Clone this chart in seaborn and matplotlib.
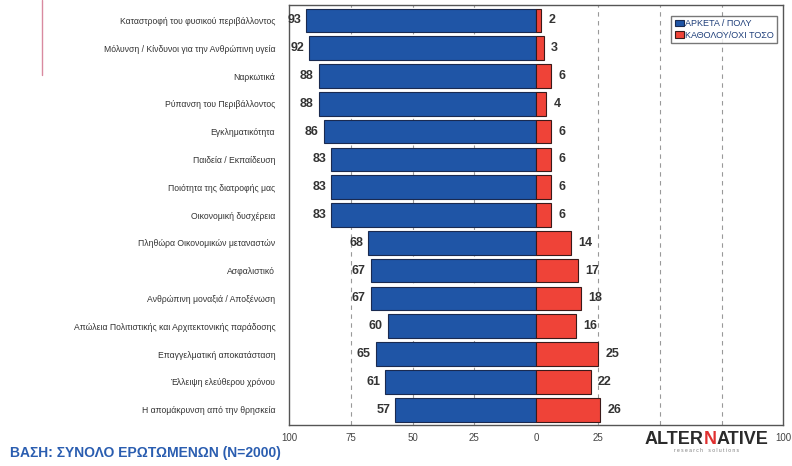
import numpy as np
import pandas as pd
import matplotlib
matplotlib.use("Agg")
import matplotlib.pyplot as plt
from matplotlib.offsetbox import TextArea, HPacker, VPacker, AnchoredOffsetbox
import seaborn as sns

# data
issues = [
    "Καταστροφή του φυσικού περιβάλλοντος",
    "Μόλυνση / Κίνδυνοι για την Ανθρώπινη υγεία",
    "Ναρκωτικά",
    "Ρύπανση του Περιβάλλοντος",
    "Εγκληματικότητα",
    "Παιδεία / Εκπαίδευση",
    "Ποιότητα της διατροφής μας",
    "Οικονομική δυσχέρεια",
    "Πληθώρα Οικονομικών μεταναστών",
    "Ασφαλιστικό",
    "Ανθρώπινη μοναξιά / Αποξένωση",
    "Απώλεια Πολιτιστικής και Αρχιτεκτονικής παράδοσης",
    "Επαγγελματική αποκατάσταση",
    "Έλλειψη ελεύθερου χρόνου",
    "Η απομάκρυνση από την θρησκεία",
]
much = [93, 92, 88, 88, 86, 83, 83, 83, 68, 67, 67, 60, 65, 61, 57]
little = [2, 3, 6, 4, 6, 6, 6, 6, 14, 17, 18, 16, 25, 22, 26]
ticks = [-100, -75, -50, -25, 0, 25, 100]

BLUE = "#1f55a6"
RED = "#ef4338"

sns.set_style("white")
plt.rcParams["font.family"] = ["Liberation Sans", "DejaVu Sans"]

df = pd.DataFrame({"issue": issues, "much": much, "little": little})
df["much_neg"] = -df["much"]

fig = plt.figure(figsize=(7.92, 4.66), dpi=100)
ax = fig.add_axes([0.365, 0.088, 0.624, 0.901])

# dashed grid first so bars sit on top
for t in [-75, -50, -25, 25, 50, 75]:
    ax.axvline(t, color="#999999", lw=0.8, ls=(0, (4, 4)), zorder=0)

sns.barplot(data=df, y="issue", x="much_neg", color=BLUE, orient="h",
            width=0.85, edgecolor="#1a2a50", linewidth=0.8, ax=ax,
            saturation=1, label="ΑΡΚΕΤΑ / ΠΟΛΥ", zorder=2)
sns.barplot(data=df, y="issue", x="little", color=RED, orient="h",
            width=0.85, edgecolor="#3a1a1a", linewidth=0.8, ax=ax,
            saturation=1, label="ΚΑΘΟΛΟΥ/ΟΧΙ ΤΟΣΟ", zorder=2)

for i, (m, l) in enumerate(zip(much, little)):
    ax.text(-m - 2, i, str(m), ha="right", va="center", fontsize=9,
            fontweight="bold", color="#333333")
    ax.text(l + 3, i, str(l), ha="left", va="center", fontsize=9,
            fontweight="bold", color="#333333")

ax.set_xlim(-100, 100)
ax.set_ylim(len(issues) - 0.45, -0.55)
ax.set_xticks(ticks)
ax.set_xticklabels([str(abs(t)) for t in ticks], fontsize=7, color="#444444")
ax.tick_params(axis="y", labelsize=6.2, colors="#333333", length=0, pad=10)
ax.tick_params(axis="x", length=0, pad=6)
ax.set_xlabel("")
ax.set_ylabel("")
for s in ax.spines.values():
    s.set_color("#555555")
    s.set_linewidth(1.0)

leg = ax.legend(loc="upper right", bbox_to_anchor=(0.997, 0.985), fontsize=6.5,
                frameon=True, fancybox=False, handlelength=1.0, handleheight=0.7,
                handletextpad=0.2, borderpad=0.35, labelspacing=0.3)
leg.get_frame().set_edgecolor("#555555")
leg.get_frame().set_linewidth(1.0)
for txt in leg.get_texts():
    txt.set_color("#1f3f7a")

fig.text(0.013, 0.012, "ΒΑΣΗ: ΣΥΝΟΛΟ ΕΡΩΤΩΜΕΝΩΝ (N=2000)", fontsize=10,
         fontweight="bold", color="#2a5db0", ha="left", va="bottom")

# company logo at bottom right, red N in the middle
logo_props = dict(fontsize=13, fontweight="bold")
word = HPacker(children=[
    TextArea("ALTER", textprops=dict(color="#2b2b2b", **logo_props)),
    TextArea("N", textprops=dict(color="#e03030", **logo_props)),
    TextArea("ATIVE", textprops=dict(color="#2b2b2b", **logo_props)),
], pad=0, sep=0)
sub = TextArea("r e s e a r c h    s o l u t i o n s",
               textprops=dict(color="#777777", fontsize=3.5))
logo = VPacker(children=[word, sub], pad=0, sep=0, align="center")
fig.add_artist(AnchoredOffsetbox(loc="lower left", child=logo, frameon=False,
                                 bbox_to_anchor=(0.814, 0.027),
                                 bbox_transform=fig.transFigure, pad=0,
                                 borderpad=0))

# thin pink decoration line at top-left
fig.add_artist(plt.Line2D([0.053, 0.053], [0.84, 1.0], color="#d98aa0", lw=1))

fig.savefig("out.png", dpi=100)
